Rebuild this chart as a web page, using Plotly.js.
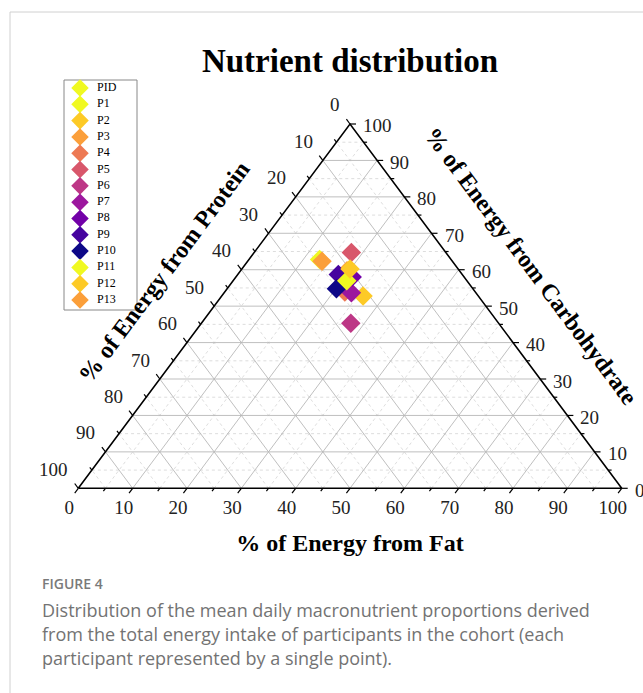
<!DOCTYPE html>
<html><head><meta charset="utf-8">
<script src="https://cdn.plot.ly/plotly-3.0.1.min.js"></script>
<style>html,body{margin:0;padding:0;background:#fff;}#chart{width:643px;height:693px;}</style>
</head><body><div id="chart"></div>
<script>
// ---- data (percent of energy) ----
const participants = ['PID','P1','P2','P3','P4','P5','P6','P7','P8','P9','P10','P11','P12','P13'];
const protein      = [24.2, 22.2, 21.2, 20.7, 24.0, 17.4, 27.2, 22.9, 20.6, 22.8, 25.1, 22.1, 19.9, 24.0];
const fat          = [13.0, 20.5, 26.0, 19.6, 22.1, 17.9, 27.5, 23.4, 21.4, 18.5, 20.1, 20.9, 19.9, 13.7];
const carbohydrate = [62.8, 57.3, 52.8, 59.7, 53.9, 64.7, 45.3, 53.7, 58.0, 58.7, 54.8, 57.0, 60.2, 62.3];
const colors = ['#f0f921','#f0f921','#fdca26','#fb9f3a','#ed7953','#d8576b','#bd3786','#9c179e','#7201a8','#46039f','#0d0887','#f0f921','#fdca26','#fb9f3a'];
const majorTicks = [0,10,20,30,40,50,60,70,80,90,100];
const minorTicks = [5,15,25,35,45,55,65,75,85,95];
const gridMajor = [10,20,30,40,50,60,70,80,90];
const tickLabels = majorTicks.map(String);

// ---- geometry (pixel targets of the triangle) ----
const W = 643, H = 693;
const X0 = 78.3, X1 = 621.7, YB = 488.3, YT = 124;
const KX = (X1 - X0) / 100, KY = (YB - YT) / 100;
const SERIF = 'Liberation Serif, Times New Roman, serif';
const SANS = 'Open Sans, sans-serif';

// ternary (protein, fat, carbohydrate) -> cartesian
function toXY(p, f, c) { const s = p + f + c; return [100 * (f + c / 2) / s, 100 * c / s]; }

function lines(vals) {
  const xs = [], ys = [];
  vals.forEach(t => {
    [[toXY(100 - t, 0, t), toXY(0, 100 - t, t)],
     [toXY(100 - t, t, 0), toXY(0, t, 100 - t)],
     [toXY(t, 100 - t, 0), toXY(t, 0, 100 - t)]].forEach(([a, b]) => {
      xs.push(a[0], b[0], null); ys.push(a[1], b[1], null);
    });
  });
  return { xs, ys };
}
function ticks(vals, lenPx) {
  const sd = lenPx / Math.hypot(0.5 * KX, KY), sh = lenPx / KX;
  const xs = [], ys = [];
  vals.forEach(t => {
    let b = toXY(100 - t, t, 0);               // bottom: fat
    xs.push(b[0], b[0] - 0.5 * sd, null); ys.push(b[1], b[1] - sd, null);
    b = toXY(0, 100 - t, t);                    // right: carbohydrate
    xs.push(b[0], b[0] + sh, null); ys.push(b[1], b[1], null);
    b = toXY(t, 0, 100 - t);                    // left: protein
    xs.push(b[0], b[0] - 0.5 * sd, null); ys.push(b[1], b[1] + sd, null);
  });
  return { xs, ys };
}

const traces = [];
const gMinor = lines(minorTicks);
traces.push({ type: 'scatter', mode: 'lines', x: gMinor.xs, y: gMinor.ys, showlegend: false, hoverinfo: 'skip',
  line: { color: '#d4d4d4', width: 0.8, dash: 'dot' } });
const gMajor = lines(gridMajor);
traces.push({ type: 'scatter', mode: 'lines', x: gMajor.xs, y: gMajor.ys, showlegend: false, hoverinfo: 'skip',
  line: { color: '#b8b8b8', width: 0.9 } });
const tMaj = ticks(majorTicks, 6), tMin = ticks(minorTicks, 3.5);
traces.push({ type: 'scatter', mode: 'lines', x: tMaj.xs.concat(tMin.xs), y: tMaj.ys.concat(tMin.ys), showlegend: false,
  hoverinfo: 'skip', line: { color: '#000', width: 1.2 } });
const tri = [toXY(100, 0, 0), toXY(0, 100, 0), toXY(0, 0, 100), toXY(100, 0, 0)];
traces.push({ type: 'scatter', mode: 'lines', x: tri.map(p => p[0]), y: tri.map(p => p[1]), showlegend: false,
  hoverinfo: 'skip', line: { color: '#000', width: 1.6 } });

participants.forEach((name, i) => {
  const p = toXY(protein[i], fat[i], carbohydrate[i]);
  traces.push({ type: 'scatter', mode: 'markers', name: name, x: [p[0]], y: [p[1]], cliponaxis: false,
    showlegend: false, marker: { symbol: 'diamond', size: 15, color: colors[i], line: { width: 0 } } });
});

// legend key (own small axes: one row per participant)
const rows = participants.map((_, i) => i);
traces.push({ type: 'scatter', mode: 'markers', xaxis: 'x2', yaxis: 'y2', x: rows.map(() => 16), y: rows,
  showlegend: false, cliponaxis: false, hoverinfo: 'skip',
  marker: { symbol: 'diamond', size: 13.5, color: colors, line: { width: 0 } } });
traces.push({ type: 'scatter', mode: 'text', xaxis: 'x2', yaxis: 'y2', x: rows.map(() => 33), y: rows,
  text: participants, textposition: 'middle right', showlegend: false, cliponaxis: false, hoverinfo: 'skip',
  textfont: { family: SERIF, size: 12, color: '#000' } });

const annotations = [];
majorTicks.forEach((t, i) => {
  const l = toXY(t, 0, 100 - t);
  annotations.push({ x: l[0], y: l[1], xref: 'x', yref: 'y', text: tickLabels[i], showarrow: false,
    xanchor: 'right', yanchor: 'middle', xshift: -8, yshift: 19, font: { family: SERIF, size: 19, color: '#222' } });
  const r = toXY(0, 100 - t, t);
  annotations.push({ x: r[0], y: r[1], xref: 'x', yref: 'y', text: tickLabels[i], showarrow: false,
    xanchor: 'left', yanchor: 'middle', xshift: 11, yshift: -2, font: { family: SERIF, size: 19, color: '#222' } });
});
annotations.push({ xref: 'paper', yref: 'paper', x: 164 / W, y: 1 - 272 / H, text: '% of Energy from Protein',
  showarrow: false, textangle: -53.3, xanchor: 'center', yanchor: 'middle',
  font: { family: SERIF, size: 24, color: '#000', weight: 'bold' } });
annotations.push({ xref: 'paper', yref: 'paper', x: 531 / W, y: 1 - 266 / H, text: '% of Energy from Carbohydrate',
  showarrow: false, textangle: 53.3, xanchor: 'center', yanchor: 'middle',
  font: { family: SERIF, size: 24, color: '#000', weight: 'bold' } });
annotations.push({ xref: 'paper', yref: 'paper', x: 40 / W, y: 1 - 583 / H, text: 'FIGURE 4', showarrow: false,
  xanchor: 'left', yanchor: 'middle', font: { family: SANS, size: 14, color: '#7a7a7a', weight: 600 } });
const captionLines = ['Distribution of the mean daily macronutrient proportions derived',
  'from the total energy intake of participants in the cohort (each',
  'participant represented by a single point).'];
captionLines.forEach((txt, i) => {
  annotations.push({ xref: 'paper', yref: 'paper', x: 40 / W, y: 1 - (610 + 24 * i) / H, text: txt, showarrow: false,
    xanchor: 'left', yanchor: 'middle', font: { family: SANS, size: 18, color: '#737373' } });
});

// legend box pixel frame
const LG = { l: 64, r: 137, t: 80, b: 310, first: 88, step: 16.31 };

const layout = {
  width: W, height: H, margin: { l: 0, r: 0, t: 0, b: 0 }, paper_bgcolor: '#fff', plot_bgcolor: 'rgba(0,0,0,0)',
  title: { text: 'Nutrient distribution', x: 350 / W, xanchor: 'center', xref: 'paper', y: 1 - 60 / H, yanchor: 'middle',
    yref: 'container', font: { family: SERIF, size: 33, color: '#000', weight: 'bold' } },
  xaxis: { domain: [57 / W, 1], range: [(57 - X0) / KX, (W - X0) / KX], anchor: 'free', position: (H - 489) / H,
    showgrid: false, zeroline: false, showline: false, ticks: '', tickmode: 'array', tickvals: majorTicks,
    ticktext: tickLabels, ticklabelshift: -9, ticklabelstandoff: 5, tickfont: { family: SERIF, size: 19, color: '#222' },
    title: { text: '% of Energy from Fat', standoff: 17, font: { family: SERIF, size: 24, color: '#000', weight: 'bold' } },
    fixedrange: true },
  yaxis: { domain: [(H - 510) / H, (H - 100) / H], range: [(YB - 510) / KY, (YB - 100) / KY], visible: false,
    fixedrange: true },
  xaxis2: { domain: [LG.l / W, LG.r / W], range: [0, LG.r - LG.l], anchor: 'y2', visible: false, fixedrange: true },
  yaxis2: { domain: [1 - LG.b / H, 1 - LG.t / H], range: [(LG.b - LG.first) / LG.step, (LG.t - LG.first) / LG.step],
    anchor: 'x2', visible: false, fixedrange: true },
  showlegend: false,
  annotations: annotations,
  shapes: [
    { type: 'line', xref: 'paper', yref: 'paper', x0: 10 / W, x1: 1, y0: 1 - 12 / H, y1: 1 - 12 / H, line: { color: '#d0d0d0', width: 1 } },
    { type: 'line', xref: 'paper', yref: 'paper', x0: 10 / W, x1: 10 / W, y0: 1 - 12 / H, y1: 0, line: { color: '#d0d0d0', width: 1 } },
    { type: 'rect', xref: 'x2 domain', yref: 'y2 domain', x0: 0, x1: 1, y0: 0, y1: 1, layer: 'below',
      fillcolor: '#fff', line: { color: '#888', width: 1 } }
  ],
  hovermode: false
};
Plotly.newPlot('chart', traces, layout, { staticPlot: true, displayModeBar: false });
</script>
</body></html>
